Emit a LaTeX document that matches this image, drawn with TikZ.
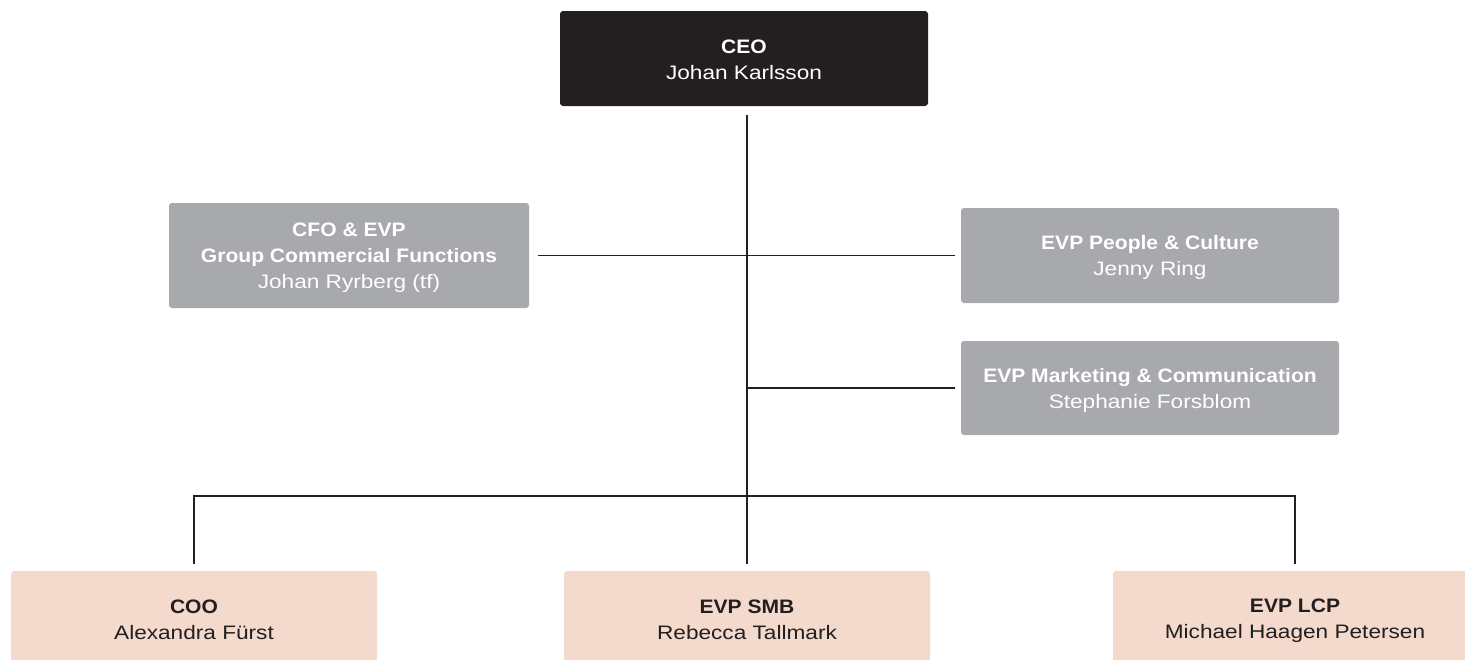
\documentclass[tikz,border=0pt]{standalone}
\usepackage{fontspec}
\setmainfont{Liberation Sans}
\newfontfamily\rolefont{Liberation Sans}[FakeStretch=1.08]
\newfontfamily\namefont{Liberation Sans}[FakeStretch=1.16]

\definecolor{ink}{HTML}{231F20}
\definecolor{staffgray}{HTML}{A7A9AC}
\definecolor{unitpeach}{HTML}{F3DACC}

% same line box in every node, so all texts sit alike
\newcommand{\orgstrut}{\rule[-4pt]{0pt}{23pt}}
\newcommand{\role}[1]{\orgstrut{\rolefont\bfseries #1}}
\newcommand{\who}[1]{\orgstrut{\namefont #1}}

\tikzset{
  orgbox/.style={rounded corners=3pt, inner sep=0pt, align=center,
    font=\fontsize{19.5}{26}\selectfont, minimum height=95pt},
  ceobox/.style={orgbox, fill=ink, text=white, minimum width=368pt},
  staffbox/.style={orgbox, fill=staffgray, text=white, minimum width=378pt},
  unitbox/.style={orgbox, fill=unitpeach, text=ink, minimum width=366pt},
  link/.style={draw=ink, line width=1.3pt},
}

\begin{document}
\begin{tikzpicture}[x=1pt, y=-1pt]
        \clip (0,0) rectangle (1465,659);

        \node [ceobox] (ceo) at (744,58.5)
          {\role{CEO}\\\who{Johan Karlsson}};
        \node [staffbox, minimum width=360pt, minimum height=105pt] (cfo) at (349,255.5)
          {\role{CFO \& EVP}\\\role{Group Commercial Functions}\\\who{Johan Ryrberg (tf)}};
        \node [staffbox] (pc) at (1150,255.5)
          {\role{EVP People \& Culture}\\\who{Jenny Ring}};
        \node [staffbox, minimum height=94pt] (mc) at (1150,388)
          {\role{EVP Marketing \& Communication}\\\who{Stephanie Forsblom}};

        \node [unitbox] (coo) at (194,618.5)
          {\role{COO}\\\who{Alexandra Fürst}};
        \node [unitbox] (smb) at (747,618.5)
          {\role{EVP SMB}\\\who{Rebecca Tallmark}};
        \node [unitbox, minimum width=364pt] (lcp) at (1295,618.5)
          {\role{EVP LCP}\\\who{Michael Haagen Petersen}};

        \coordinate (bus) at (0,496);

        % spine and staff lines
        \draw [link, shorten <=9pt, shorten >=7pt] (ceo.south -| smb.north) -- (smb.north);
        \draw [link, shorten <=9pt, shorten >=6pt] (cfo.east) -- (pc.west);
        \draw [link, shorten <=6pt] (mc.west) -- (mc.west -| smb.north);

        % business units
        \draw [link] ([yshift=7pt]coo.north) -- (coo.north |- bus)
          -- (lcp.north |- bus) -- ([yshift=7pt]lcp.north);

    \end{tikzpicture}
\end{document}
